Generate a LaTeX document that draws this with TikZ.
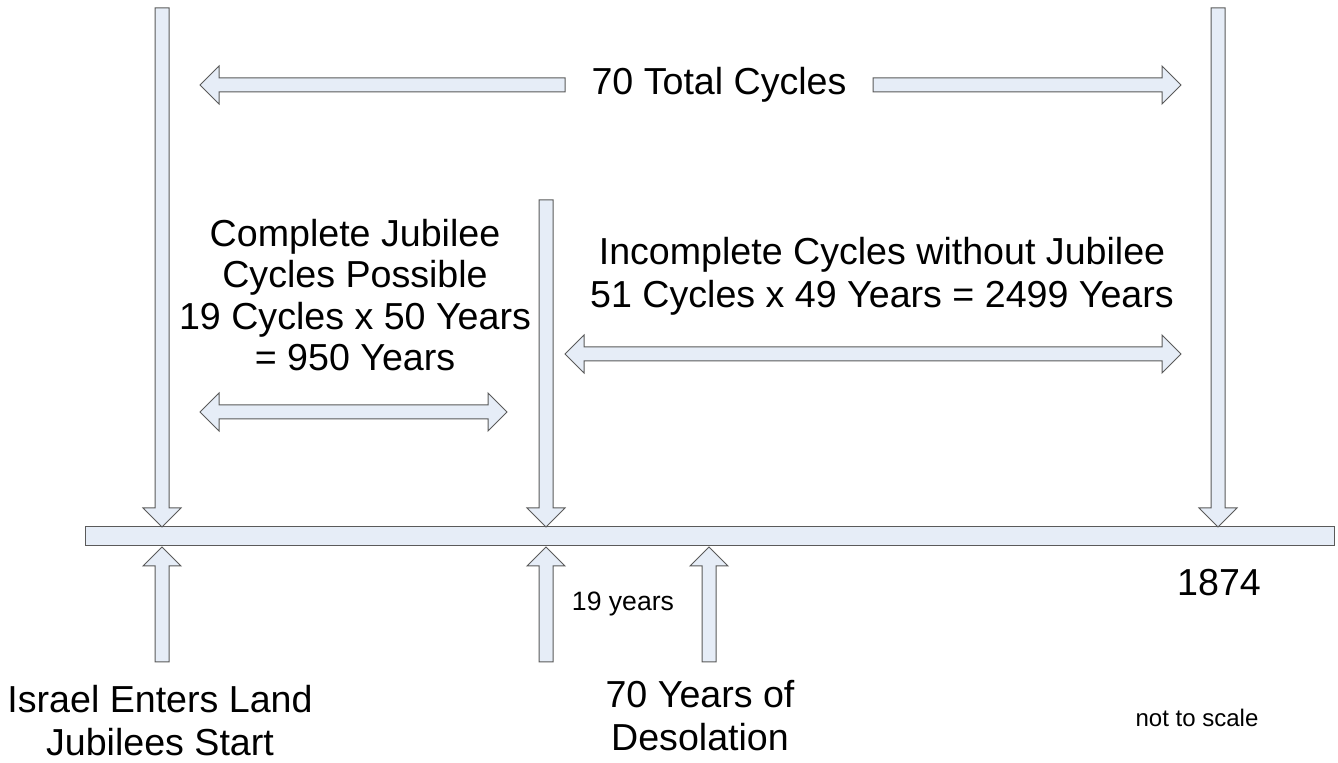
\documentclass[tikz,border=0pt]{standalone}
\usepackage{fontspec}
\setmainfont{Liberation Sans}
\definecolor{arrowfill}{HTML}{E6EDF7}
\definecolor{arrowline}{HTML}{5A5A5A}
\tikzset{
	blockarrow/.pic={
		\draw[fill=arrowfill,draw=arrowline,line width=.5pt,line join=miter] (0,-7) -- (#1-19,-7) -- (#1-19,-19) -- (#1,0) -- (#1-19,19) -- (#1-19,7) -- (0,7) -- cycle;
	}
}
\tikzset{
	doublearrow/.pic={
		\draw[fill=arrowfill,draw=arrowline,line width=.5pt,line join=miter] (0,0) -- (19,19) -- (19,7) -- (#1-19,7) -- (#1-19,19) -- (#1,0) -- (#1-19,-19) -- (#1-19,-7) -- (19,-7) -- (19,-19) -- cycle;
	}
}
\tikzset{
	bigtext/.style={inner sep=0pt,align=center,font=\fontsize{18.8}{21.5}\selectfont},
	smalltext/.style={inner sep=0pt,align=center,font=\fontsize{13}{15}\selectfont}
}

\begin{document}
\begin{tikzpicture}[x=.5pt,y=.5pt]
\useasboundingbox (0,0) rectangle (1338,763);
%timeline
\draw[fill=arrowfill,draw=arrowline,line width=.5pt] (85,217) rectangle (1334,236);

%arrows from above
\draw (162,755) pic[rotate=-90] {blockarrow=519};
\draw (546,563) pic[rotate=-90] {blockarrow=327};
\draw (1218,755) pic[rotate=-90] {blockarrow=519};

%arrows from below
\foreach \xpos in {162,546,709}
	\draw (\xpos,101) pic[rotate=90] {blockarrow=115};

%total cycles
\draw (565,678) pic[rotate=180] {blockarrow=365};
\draw (873,678) pic {blockarrow=308};
\node[bigtext] (total) at (719,678) {70 Total Cycles};

%spans
\draw (200,351) pic {doublearrow=307};
\draw (565,409) pic {doublearrow=616};
\node[bigtext,font=\fontsize{18.8}{20.7}\selectfont] (complete) at (355,468) {Complete Jubilee\\Cycles Possible\\19 Cycles x 50 Years\\= 950 Years};
\node[bigtext] (incomplete) at (882,487) {Incomplete Cycles without Jubilee\\51 Cycles x 49 Years = 2499 Years};

%labels under the line
\node[bigtext] (end) at (1219,180) {1874};
\node[smalltext,font=\fontsize{13.3}{15}\selectfont] (gap) at (623,159) {19 years};
\node[bigtext] (israel) at (160,42) {Israel Enters Land\\Jubilees Start};
\node[bigtext] (desolation) at (700,47) {70 Years of\\Desolation};
\node[smalltext,font=\fontsize{12}{15}\selectfont] (scale) at (1197,45) {not to scale};
\end{tikzpicture}
\end{document}
